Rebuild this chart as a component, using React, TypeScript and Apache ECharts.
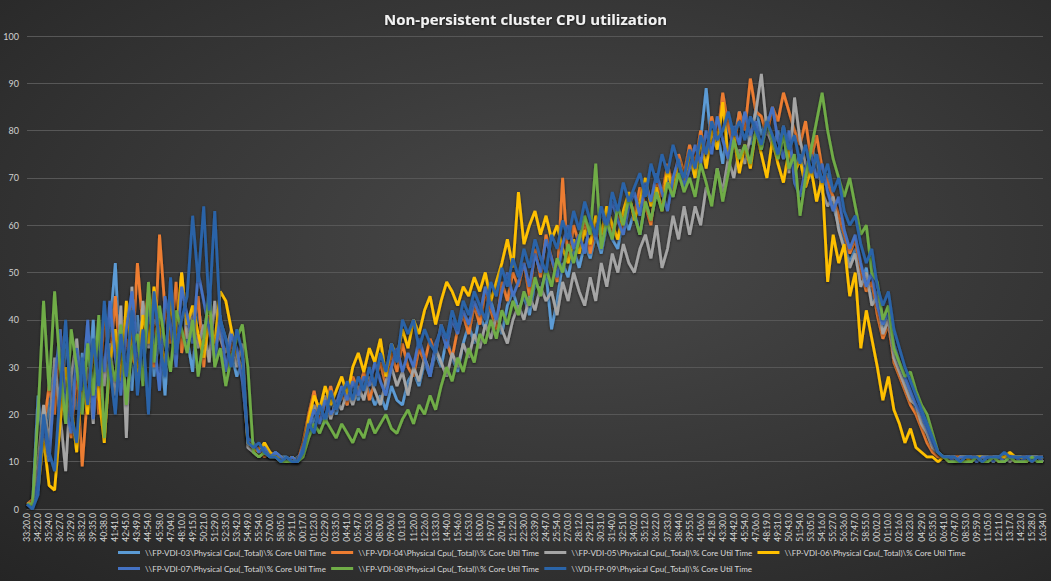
import React, { useEffect, useRef } from 'react';
import * as echarts from 'echarts';

// Time-of-sample labels shown under the x axis (one every two samples)
const tickLabels = [
  '33:20.0', '34:22.0', '35:24.0', '36:27.0', '37:29.0', '38:32.0', '39:35.0', '40:38.0', '41:41.0', '42:45.0',
  '43:49.0', '44:54.0', '45:58.0', '47:04.0', '48:10.0', '49:15.0', '50:21.0', '51:29.0', '52:35.0', '53:42.0',
  '54:49.0', '55:54.0', '57:00.0', '58:05.0', '59:11.0', '00:17.0', '01:23.0', '02:29.0', '03:35.0', '04:41.0',
  '05:47.0', '06:53.0', '08:00.0', '09:06.0', '10:13.0', '11:20.0', '12:26.0', '13:33.0', '14:40.0', '15:46.0',
  '16:53.0', '18:00.0', '19:07.0', '20:14.0', '21:22.0', '22:30.0', '23:39.0', '24:47.0', '25:54.0', '27:03.0',
  '28:12.0', '29:21.0', '30:31.0', '31:40.0', '32:51.0', '34:02.0', '35:12.0', '36:22.0', '37:33.0', '38:44.0',
  '39:55.0', '41:06.0', '42:18.0', '43:30.0', '44:42.0', '45:54.0', '47:06.0', '48:19.0', '49:31.0', '50:43.0',
  '51:54.0', '53:05.0', '54:16.0', '55:27.0', '56:36.0', '57:47.0', '58:55.0', '00:02.0', '01:10.0', '02:16.0',
  '03:23.0', '04:29.0', '05:35.0', '06:41.0', '07:47.0', '08:53.0', '09:59.0', '11:05.0', '12:11.0', '13:17.0',
  '14:23.0', '15:28.0', '16:34.0',
];

const seriesNames = [
  '\\\\FP-VDI-03\\Physical Cpu(_Total)\\% Core Util Time',
  '\\\\FP-VDI-04\\Physical Cpu(_Total)\\% Core Util Time',
  '\\\\FP-VDI-05\\Physical Cpu(_Total)\\% Core Util Time',
  '\\\\FP-VDI-06\\Physical Cpu(_Total)\\% Core Util Time',
  '\\\\FP-VDI-07\\Physical Cpu(_Total)\\% Core Util Time',
  '\\\\FP-VDI-08\\Physical Cpu(_Total)\\% Core Util Time',
  '\\\\VDI-FP-09\\Physical Cpu(_Total)\\% Core Util Time',
];

const seriesColors = ['#5B9BD5', '#ED7D31', '#A5A5A5', '#FFC000', '#4472C4', '#70AD47', '#2A64A8'];

// % Core Util Time per host
const fp03 = [
  1, 1, 24, 12, 22, 30, 18, 35, 28, 21,
  33, 26, 40, 22, 30, 38, 52, 27, 34, 25,
  41, 30, 45, 28, 37, 24, 44, 33, 48, 36,
  29, 43, 35, 47, 31, 40, 36, 33, 28, 31,
  14, 13, 12, 14, 11, 12, 11, 11, 10, 11,
  12, 16, 19, 21, 18, 23, 20, 24, 22, 26,
  23, 27, 25, 22, 24, 21, 26, 23, 22, 27,
  29, 26, 31, 28, 33, 30, 36, 32, 29, 35,
  39, 35, 41, 38, 44, 40, 37, 43, 46, 42,
  45, 41, 48, 46, 50, 38, 44, 52, 49, 55,
  51, 56, 53, 58, 54, 60, 57, 55, 62, 59,
  63, 58, 65, 61, 67, 64, 70, 66, 72, 68,
  74, 70, 78, 89, 76, 80, 73, 82, 78, 84,
  81, 77, 85, 79, 83, 76, 80, 74, 78, 72,
  75, 70, 77, 73, 68, 71, 64, 60, 56, 52,
  55, 48, 51, 44, 46, 38, 41, 33, 30, 27,
  24, 21, 19, 16, 13, 11, 11, 11, 10, 11,
  11, 10, 11, 11, 10, 11, 11, 10, 11, 11,
  10, 11, 11, 10, 11,
];

const fp04 = [
  1, 2, 8, 17, 26, 20, 38, 24, 15, 30,
  9, 25, 34, 20, 42, 30, 45, 28, 36, 31,
  52, 38, 46, 30, 58, 42, 35, 48, 33, 40,
  37, 45, 30, 41, 34, 38, 29, 35, 32, 30,
  15, 12, 13, 11, 12, 11, 11, 10, 11, 10,
  14, 20, 25, 19, 22, 26, 21, 24, 22, 28,
  25, 29, 23, 27, 31, 26, 33, 29, 35, 30,
  28, 34, 31, 36, 33, 39, 35, 32, 38, 41,
  37, 43, 39, 46, 42, 38, 48, 44, 50, 47,
  52, 45, 55, 49, 58, 53, 48, 70, 52, 60,
  56, 61, 54, 60, 57, 63, 58, 62, 59, 66,
  62, 68, 64, 60, 70, 66, 73, 68, 75, 71,
  77, 73, 80, 75, 83, 78, 88, 81, 76, 84,
  80, 91, 84, 83, 79, 85, 82, 88, 84, 80,
  77, 82, 74, 79, 72, 69, 66, 62, 58, 54,
  57, 50, 46, 48, 41, 36, 39, 31, 28, 25,
  22, 20, 17, 14, 12, 11, 11, 10, 11, 11,
  10, 11, 11, 10, 11, 11, 10, 11, 11, 10,
  11, 11, 10, 11, 11,
];

const fp05 = [
  1, 1, 10, 22, 14, 32, 20, 8, 28, 36,
  22, 30, 18, 40, 26, 35, 24, 43, 15, 47,
  27, 44, 34, 40, 38, 30, 46, 32, 50, 36,
  42, 34, 39, 31, 44, 36, 33, 38, 30, 35,
  13, 12, 11, 12, 11, 11, 10, 11, 10, 10,
  13, 18, 22, 20, 24, 19, 23, 21, 25, 22,
  26, 23, 28, 25, 22, 27, 30, 26, 29, 24,
  30, 27, 32, 29, 34, 31, 28, 33, 30, 35,
  32, 37, 34, 39, 36, 41, 38, 35, 40, 43,
  40, 45, 42, 47, 44, 46, 41, 48, 44, 50,
  46, 43, 49, 44, 52, 47, 54, 50, 56, 52,
  50, 55, 58, 53, 60, 51, 55, 62, 57, 64,
  58, 64, 60, 68, 65, 72, 67, 74, 70, 76,
  73, 79, 84, 92, 80, 77, 74, 81, 71, 87,
  78, 73, 70, 75, 67, 64, 66, 59, 55, 51,
  54, 47, 50, 43, 45, 37, 40, 32, 29, 26,
  23, 22, 18, 16, 13, 12, 11, 11, 11, 10,
  11, 11, 10, 11, 10, 11, 11, 11, 10, 11,
  11, 10, 11, 11, 10,
];

const fp06 = [
  1, 1, 4, 15, 5, 4, 18, 30, 22, 12,
  28, 20, 35, 24, 14, 31, 38, 27, 44, 33,
  29, 41, 35, 47, 38, 30, 44, 36, 50, 39,
  43, 37, 32, 40, 35, 46, 44, 38, 33, 29,
  14, 13, 12, 14, 12, 11, 11, 10, 11, 10,
  12, 19, 24, 21, 26, 22, 25, 28, 24, 30,
  33, 29, 34, 31, 36, 28, 35, 32, 38, 34,
  40, 37, 42, 45, 39, 44, 48, 46, 43, 47,
  45, 49, 46, 50, 44, 48, 52, 57, 51, 67,
  56, 60, 63, 58, 62, 57, 60, 55, 52, 57,
  54, 59, 56, 62, 58, 64, 60, 57, 63, 67,
  61, 65, 70, 64, 68, 63, 72, 67, 74, 69,
  75, 70, 78, 72, 80, 76, 86, 74, 79, 71,
  77, 72, 80, 75, 70, 78, 73, 69, 76, 71,
  74, 68, 72, 65, 70, 48, 58, 52, 56, 45,
  50, 34, 42, 36, 30, 23, 28, 21, 18, 14,
  17, 13, 12, 11, 11, 10, 11, 11, 10, 11,
  11, 10, 11, 11, 11, 10, 11, 11, 12, 11,
  11, 10, 11, 11, 10,
];

const fp07 = [
  1, 0, 6, 18, 10, 27, 38, 22, 16, 34,
  25, 40, 19, 36, 29, 44, 32, 24, 38, 46,
  33, 28, 42, 36, 25, 45, 39, 30, 47, 41,
  35, 50, 44, 38, 32, 41, 29, 37, 34, 27,
  15, 14, 12, 13, 11, 12, 11, 10, 11, 10,
  13, 17, 21, 18, 23, 20, 22, 26, 23, 27,
  24, 28, 26, 31, 27, 24, 30, 34, 29, 33,
  30, 36, 32, 28, 35, 38, 34, 40, 37, 42,
  39, 44, 41, 47, 43, 40, 46, 50, 45, 48,
  52, 47, 54, 50, 57, 53, 49, 56, 60, 55,
  58, 54, 61, 57, 63, 59, 65, 61, 58, 64,
  67, 62, 69, 65, 71, 67, 63, 70, 74, 68,
  72, 77, 73, 80, 75, 83, 78, 74, 81, 77,
  84, 79, 82, 76, 81, 85, 78, 74, 80, 69,
  66, 72, 75, 70, 73, 67, 63, 66, 59, 55,
  58, 52, 47, 50, 43, 39, 42, 35, 31, 28,
  25, 22, 20, 17, 14, 12, 11, 11, 10, 11,
  11, 11, 10, 11, 11, 10, 11, 10, 11, 11,
  10, 11, 11, 11, 10,
];

const fp08 = [
  1, 1, 20, 44, 25, 46, 30, 18, 38, 30,
  20, 35, 24, 41, 15, 32, 27, 39, 22, 34,
  37, 26, 48, 31, 43, 35, 29, 42, 38, 33,
  40, 28, 36, 45, 30, 34, 26, 32, 36, 39,
  30, 12, 11, 12, 11, 11, 10, 10, 10, 10,
  11, 15, 18, 16, 19, 17, 15, 18, 16, 14,
  17, 15, 19, 16, 18, 20, 17, 16, 19, 21,
  18, 22, 20, 24, 21, 26, 30, 27, 32, 29,
  34, 31, 37, 35, 40, 36, 42, 39, 44, 41,
  46, 43, 49, 45, 51, 47, 53, 50, 56, 52,
  57, 62, 58, 73, 55, 61, 57, 64, 60, 66,
  62, 58, 65, 61, 67, 63, 69, 66, 71, 67,
  70, 66, 73, 69, 64, 72, 65, 71, 78, 74,
  77, 73, 80, 76, 82, 78, 74, 79, 72, 75,
  62, 70, 76, 82, 88, 80, 74, 70, 66, 70,
  64, 58, 60, 50, 48, 40, 43, 34, 31, 28,
  29, 25, 22, 20, 16, 12, 11, 10, 10, 10,
  10, 10, 11, 10, 10, 11, 10, 10, 11, 10,
  10, 10, 11, 10, 10,
];

const fp09 = [
  1, 0, 3, 20, 12, 8, 25, 40, 20, 14,
  32, 22, 36, 26, 44, 30, 20, 37, 28, 42,
  24, 38, 20, 46, 35, 28, 49, 33, 40, 45,
  62, 48, 64, 42, 63, 40, 36, 30, 38, 33,
  14, 13, 14, 12, 11, 11, 10, 11, 10, 10,
  12, 18, 16, 22, 19, 25, 21, 24, 27, 23,
  28, 25, 30, 26, 33, 29, 35, 31, 40, 37,
  40, 34, 38, 35, 33, 39, 36, 42, 38, 44,
  41, 46, 43, 40, 48, 45, 51, 47, 53, 49,
  55, 51, 57, 53, 50, 58, 55, 61, 57, 63,
  59, 65, 61, 58, 64, 60, 67, 63, 69, 65,
  68, 71, 66, 73, 69, 75, 71, 77, 73, 70,
  76, 72, 79, 75, 82, 78, 80, 84, 79, 82,
  78, 83, 80, 77, 82, 79, 75, 81, 76, 79,
  73, 77, 71, 75, 69, 73, 67, 70, 63, 60,
  62, 56, 52, 55, 47, 43, 46, 38, 34, 30,
  27, 24, 21, 18, 15, 12, 11, 11, 11, 10,
  11, 11, 11, 10, 11, 11, 11, 12, 11, 11,
  11, 11, 10, 11, 11,
];

const seriesValues = [fp03, fp04, fp05, fp06, fp07, fp08, fp09];

export default function App() {
  const ref = useRef<HTMLDivElement>(null);

  useEffect(() => {
    document.body.style.margin = '0';
    const chart = echarts.init(ref.current!, null, { renderer: 'svg' });

    // two samples per labelled tick: the labelled one and an unlabelled one in between
    const categories: string[] = [];
    tickLabels.forEach((t, i) => {
      categories.push(t);
      if (i < tickLabels.length - 1) categories.push('');
    });

    const fontFamily = 'Lato, "Noto Sans", sans-serif';

    chart.setOption({
      animation: false,
      backgroundColor: {
        type: 'radial',
        x: 0.55,
        y: 0.42,
        r: 0.8,
        colorStops: [
          { offset: 0, color: '#4a4a4a' },
          { offset: 1, color: '#252525' },
        ],
      },
      title: {
        text: 'Non-persistent cluster CPU utilization',
        left: 'center',
        top: 6,
        textStyle: {
          color: '#f2f2f2',
          fontSize: 15,
          fontWeight: 'bold',
          fontFamily: '"Open Sans", "Noto Sans", sans-serif',
          textShadowColor: 'rgba(0,0,0,0.6)',
          textShadowBlur: 2,
          textShadowOffsetY: 1,
        },
      },
      legend: {
        data: seriesNames,
        left: 113,
        top: 542,
        width: 850,
        itemGap: 5,
        itemWidth: 22,
        itemHeight: 3,
        icon: 'rect',
        textStyle: {
          color: '#d9d9d9',
          fontSize: 8,
          lineHeight: 11,
          fontFamily,
          width: 176,
          overflow: 'none',
        },
      },
      grid: { left: 27, right: 8, top: 36, bottom: 72, containLabel: false },
      xAxis: {
        type: 'category',
        data: categories,
        boundaryGap: false,
        axisLine: { show: true, lineStyle: { color: '#5a5a5a' } },
        axisTick: { show: false },
        axisLabel: {
          interval: 1,
          rotate: 90,
          color: '#d4d4d4',
          fontSize: 8.5,
          fontFamily,
          margin: 4,
        },
        splitLine: { show: false },
      },
      yAxis: {
        type: 'value',
        min: 0,
        max: 100,
        interval: 10,
        axisLine: { show: false },
        axisTick: { show: false },
        axisLabel: { color: '#d0d0d0', fontSize: 9, fontFamily, margin: 8 },
        splitLine: { lineStyle: { color: '#575757', width: 1 } },
      },
      series: seriesNames.map((name, i) => ({
        name,
        type: 'line',
        data: seriesValues[i],
        showSymbol: false,
        symbol: 'none',
        color: seriesColors[i],
        lineStyle: {
          width: 2.8,
          color: seriesColors[i],
          shadowColor: 'rgba(0,0,0,0.55)',
          shadowBlur: 3,
          shadowOffsetY: 1,
        },
        emphasis: { disabled: true },
      })),
    });

    return () => chart.dispose();
  }, []);

  return <div ref={ref} style={{ width: 1051, height: 581 }} />;
}
